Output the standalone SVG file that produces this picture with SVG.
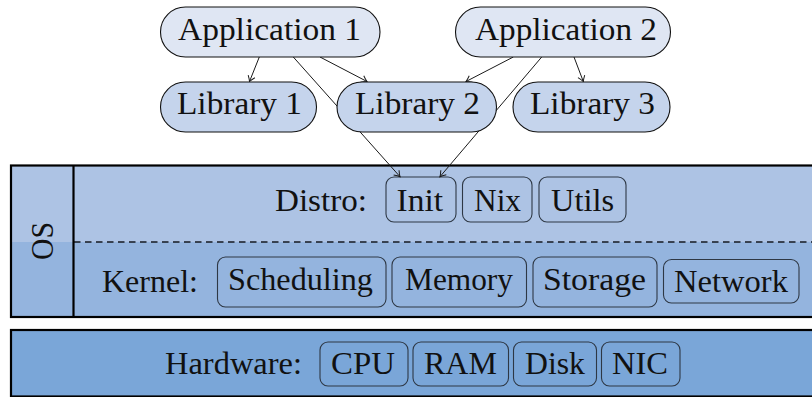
<svg xmlns="http://www.w3.org/2000/svg" width="812" height="397" viewBox="0 0 812 397" font-family="'Liberation Serif', 'Times New Roman', serif">
  <style>
    text { font-family: 'Liberation Serif', 'Times New Roman', serif; font-size: 31px; fill: #111; }
    .pill { stroke: #111; stroke-width: 1.1; }
    .app { fill: #dfe6f3; }
    .lib { fill: #c5d4ec; }
    .item { fill: none; stroke: #2e3845; stroke-width: 1.1; }
    .edge { fill: none; stroke: #1a1a1a; stroke-width: 1; marker-end: url(#tip); }
    .frame { fill: none; stroke: #000; stroke-width: 2.2; }
  </style>
  <defs>
    <marker id="tip" markerUnits="userSpaceOnUse" markerWidth="12" markerHeight="12" viewBox="-7 -6 8 12" refX="0" refY="0" orient="auto">
      <path d="M -5.5,-3.6 Q -2,-0.9 0,0 Q -2,0.9 -5.5,3.6" fill="none" stroke="#1a1a1a" stroke-width="1"/>
    </marker>
  </defs>

  <!-- operating system layer -->
  <g id="os">
    <rect x="11" y="165.5" width="820" height="76.5" fill="#adc3e4"/>
    <rect x="11" y="242" width="820" height="75" fill="#94b4de"/>
    <line x1="74" y1="242" x2="812" y2="242" stroke="#141a22" stroke-width="1.3" stroke-dasharray="6.5 4.5"/>
    <rect class="frame" x="11" y="165.5" width="820" height="151.5"/>
    <line x1="73.5" y1="165.5" x2="73.5" y2="317" stroke="#000" stroke-width="2.2"/>
    <text transform="translate(53,260) rotate(-90)" font-size="28" textLength="38" lengthAdjust="spacingAndGlyphs">OS</text>
  </g>

  <g id="distro">
    <text x="275" y="211" textLength="92" lengthAdjust="spacingAndGlyphs">Distro:</text>
    <g id="init">
      <rect class="item" x="386" y="177" width="70" height="45" rx="8"/>
      <text x="396.5" y="211" textLength="46.5" lengthAdjust="spacingAndGlyphs">Init</text>
    </g>
    <g id="nix">
      <rect class="item" x="462.5" y="177" width="69.5" height="45" rx="8"/>
      <text x="474" y="211" textLength="47" lengthAdjust="spacingAndGlyphs">Nix</text>
    </g>
    <g id="utils">
      <rect class="item" x="539" y="177" width="87" height="45" rx="8"/>
      <text x="551" y="211" textLength="63" lengthAdjust="spacingAndGlyphs">Utils</text>
    </g>
  </g>

  <g id="kernel">
    <text x="102" y="291.5" textLength="96" lengthAdjust="spacingAndGlyphs">Kernel:</text>
    <g id="scheduling">
      <rect class="item" x="217.5" y="257" width="168.5" height="50" rx="8"/>
      <text x="228" y="289.5" textLength="145" lengthAdjust="spacingAndGlyphs">Scheduling</text>
    </g>
    <g id="memory">
      <rect class="item" x="392" y="257" width="134.5" height="50" rx="8"/>
      <text x="405" y="289.5" textLength="108" lengthAdjust="spacingAndGlyphs">Memory</text>
    </g>
    <g id="storage">
      <rect class="item" x="533" y="257" width="124" height="50" rx="8"/>
      <text x="543" y="289.5" textLength="103" lengthAdjust="spacingAndGlyphs">Storage</text>
    </g>
    <g id="network">
      <rect class="item" x="663.5" y="259.5" width="135.5" height="43.5" rx="8"/>
      <text x="674" y="292" textLength="114" lengthAdjust="spacingAndGlyphs">Network</text>
    </g>
  </g>

  <!-- hardware layer -->
  <g id="hardware">
    <rect x="11" y="330" width="820" height="66.5" fill="#7aa6d8" stroke="#000" stroke-width="2.2"/>
    <text x="165" y="374" textLength="137" lengthAdjust="spacingAndGlyphs">Hardware:</text>
    <g id="cpu">
      <rect class="item" x="320" y="342" width="88" height="44" rx="8"/>
      <text x="331" y="374" textLength="64" lengthAdjust="spacingAndGlyphs">CPU</text>
    </g>
    <g id="ram">
      <rect class="item" x="413" y="342" width="95.5" height="44" rx="8"/>
      <text x="424" y="374" textLength="73" lengthAdjust="spacingAndGlyphs">RAM</text>
    </g>
    <g id="disk">
      <rect class="item" x="513.5" y="342" width="83" height="44" rx="8"/>
      <text x="525" y="374" textLength="60" lengthAdjust="spacingAndGlyphs">Disk</text>
    </g>
    <g id="nic">
      <rect class="item" x="601.5" y="342" width="78.5" height="44" rx="8"/>
      <text x="612" y="374" textLength="56" lengthAdjust="spacingAndGlyphs">NIC</text>
    </g>
  </g>

  <!-- dependency connectors -->
  <g id="connectors">
    <line class="edge" x1="259.3" y1="57" x2="249.5" y2="81.5"/>
    <line class="edge" x1="320" y1="57" x2="367" y2="81.5"/>
    <line class="edge" x1="293.3" y1="57" x2="400" y2="176.7"/>
    <line class="edge" x1="513.3" y1="57" x2="466" y2="81.5"/>
    <line class="edge" x1="541.7" y1="57" x2="440" y2="176.7"/>
    <line class="edge" x1="574" y1="57" x2="583.3" y2="81.5"/>
  </g>

  <!-- software nodes -->
  <g id="app1">
    <rect class="pill app" x="160.5" y="7" width="219.5" height="50" rx="25"/>
    <text x="178" y="39.5" textLength="183" lengthAdjust="spacingAndGlyphs">Application 1</text>
  </g>
  <g id="app2">
    <rect class="pill app" x="455.5" y="7" width="215" height="50" rx="25"/>
    <text x="475" y="39.5" textLength="182" lengthAdjust="spacingAndGlyphs">Application 2</text>
  </g>
  <g id="lib1">
    <rect class="pill lib" x="160.5" y="82" width="156" height="50" rx="25"/>
    <text x="177" y="113.5" textLength="125" lengthAdjust="spacingAndGlyphs">Library 1</text>
  </g>
  <g id="lib2">
    <rect class="pill lib" x="337" y="82" width="159.5" height="50" rx="25"/>
    <text x="355" y="113.5" textLength="125" lengthAdjust="spacingAndGlyphs">Library 2</text>
  </g>
  <g id="lib3">
    <rect class="pill lib" x="513" y="82" width="157" height="50" rx="25"/>
    <text x="530" y="113.5" textLength="125" lengthAdjust="spacingAndGlyphs">Library 3</text>
  </g>
</svg>
